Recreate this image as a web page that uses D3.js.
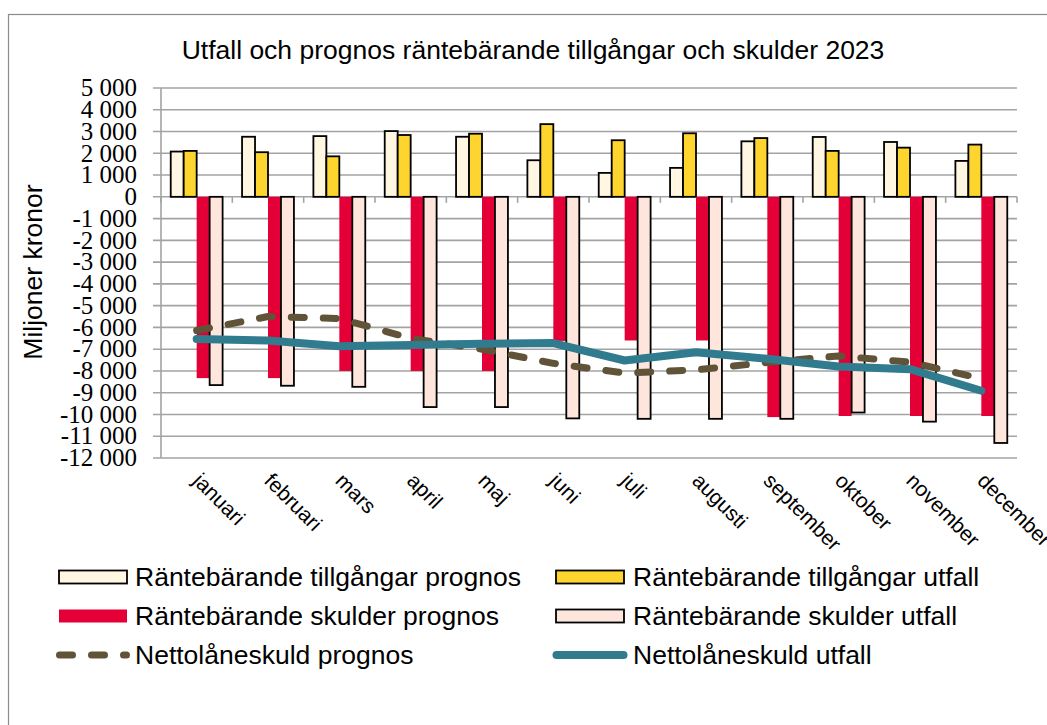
<!DOCTYPE html>
<html>
<head>
<meta charset="utf-8">
<script src="https://cdn.jsdelivr.net/npm/d3@7"></script>
<style>
  body { margin: 0; background: #fff; }
  svg { display: block; }
</style>
</head>
<body>
<script>
/* chart data (miljoner kronor) */
var months = ["januari", "februari", "mars", "april", "maj", "juni",
              "juli", "augusti", "september", "oktober", "november", "december"];
var tillgPrognos = [2080, 2760, 2790, 3020, 2760, 1680, 1100, 1330, 2550, 2750, 2520, 1650];
var tillgUtfall = [2110, 2050, 1860, 2840, 2900, 3340, 2600, 2920, 2700, 2110, 2260, 2400];
var skuldPrognos = [-8330, -8330, -8000, -8000, -8000, -6620, -6600, -6600, -10120, -10070, -10070, -10070];
var skuldUtfall = [-8650, -8680, -8730, -9660, -9660, -10180, -10200, -10200, -10200, -9910, -10330, -11310];
var nettoPrognos = [-6140, -5500, -5590, -6500, -7000, -7650, -8100, -7950, -7610, -7310, -7600, -8350];
var nettoUtfall = [-6530, -6600, -6870, -6810, -6750, -6720, -7520, -7140, -7440, -7800, -7920, -8910];
var yTicks = d3.range(-12000, 5001, 1000);

var title = "Utfall och prognos räntebärande tillgångar och skulder 2023";
var yLabel = "Miljoner kronor";

var width = 1047;
var height = 725;

var sans = "'Liberation Sans', Arial, sans-serif";
var serif = "'Liberation Serif', 'Times New Roman', serif";

var plot = {left: 161, right: 1017, top: 88, bottom: 458}; // plot area

/* series styles, in drawing order */
var barSeries = [
    {name: "Räntebärande tillgångar prognos", values: tillgPrognos, fill: "#fff7e2", stroke: "#000"},
    {name: "Räntebärande tillgångar utfall", values: tillgUtfall, fill: "#fdd52e", stroke: "#000"},
    {name: "Räntebärande skulder prognos", values: skuldPrognos, fill: "#e40037", stroke: "none"},
    {name: "Räntebärande skulder utfall", values: skuldUtfall, fill: "#fee6dc", stroke: "#000"}
];
var lineSeries = [
    {name: "Nettolåneskuld prognos", values: nettoPrognos, color: "#605338", width: 7, dash: "13,19"},
    {name: "Nettolåneskuld utfall", values: nettoUtfall, color: "#317b8f", width: 8, dash: null}
];

var svg = d3.select("body")
            .append("svg")
            .attr("width", width)
            .attr("height", height);

/* chart area frame (runs off the right and bottom edge) */
svg.append("rect")
    .attr("x", 8.5)
    .attr("y", 14.5)
    .attr("width", 1100)
    .attr("height", 800)
    .attr("fill", "#fff")
    .attr("stroke", "#8c8c8c")
    .attr("stroke-width", 1.2);

/* scales */
var xScale = d3.scaleBand()
                .domain(months)
                .range([plot.left, plot.right])
                .padding(0);

var barWidth = xScale.bandwidth() / 5.5; // gap width 150 %
var innerScale = d3.scaleBand()
                .domain(d3.range(barSeries.length))
                .range([0.75 * barWidth, 4.75 * barWidth]);

var yScale = d3.scaleLinear()
                .domain([-12000, 5000])
                .range([plot.bottom, plot.top]);

var fmt = d3.formatLocale({decimal: ",", thousands: " ", grouping: [3], currency: ["", ""], minus: "-"}).format(",d");

/* horizontal gridlines with outside tick marks */
svg.append("g")
    .selectAll("line")
    .data(yTicks)
    .enter()
    .append("line")
    .attr("x1", plot.left - 8)
    .attr("x2", plot.right)
    .attr("y1", function(d) { return yScale(d); })
    .attr("y2", function(d) { return yScale(d); })
    .attr("stroke", "#a3a3a3")
    .attr("stroke-width", 1.6);

/* vertical axis line */
svg.append("line")
    .attr("x1", plot.left)
    .attr("x2", plot.left)
    .attr("y1", yScale(5000))
    .attr("y2", yScale(-12000))
    .attr("stroke", "#a3a3a3")
    .attr("stroke-width", 1.6);

/* y tick labels */
svg.append("g")
    .selectAll("text")
    .data(yTicks)
    .enter()
    .append("text")
    .attr("x", 137)
    .attr("y", function(d) { return yScale(d); })
    .attr("dy", "0.33em")
    .attr("text-anchor", "end")
    .style("font-family", serif)
    .style("font-size", "25px")
    .attr("fill", "#000")
    .text(function(d) { return fmt(d); });

/* category tick marks on the zero line */
svg.append("g")
    .selectAll("line")
    .data(months.concat(["end"]))
    .enter()
    .append("line")
    .attr("x1", function(d) { return d === "end" ? plot.right : xScale(d); })
    .attr("x2", function(d) { return d === "end" ? plot.right : xScale(d); })
    .attr("y1", yScale(0))
    .attr("y2", yScale(0) + 6)
    .attr("stroke", "#a3a3a3")
    .attr("stroke-width", 1.6);

/* bars */
barSeries.forEach(function(s, si) {
    svg.append("g")
        .selectAll("rect")
        .data(s.values)
        .enter()
        .append("rect")
        .attr("x", function(d, i) { return xScale(months[i]) + innerScale(si); })
        .attr("y", function(d) { return yScale(Math.max(0, d)); })
        .attr("width", barWidth)
        .attr("height", function(d) { return Math.abs(yScale(d) - yScale(0)); })
        .attr("fill", s.fill)
        .attr("stroke", s.stroke)
        .attr("stroke-width", 1.8);
});

/* lines */
var line = d3.line()
            .x(function(d, i) { return xScale(months[i]) + xScale.bandwidth() / 2; })
            .y(function(d) { return yScale(d); });

lineSeries.forEach(function(s) {
    svg.append("path")
        .datum(s.values)
        .attr("d", line)
        .attr("fill", "none")
        .attr("stroke", s.color)
        .attr("stroke-width", s.width)
        .attr("stroke-linecap", "round")
        .attr("stroke-linejoin", "round")
        .attr("stroke-dasharray", s.dash);
});

/* x labels, rotated 45 degrees */
svg.append("g")
    .selectAll("text")
    .data(months)
    .enter()
    .append("text")
    .attr("transform", function(d) {
        return "translate(" + (xScale(d) + xScale.bandwidth() / 2 - 5) + ",482) rotate(45)";
    })
    .attr("text-anchor", "start")
    .style("font-family", sans)
    .style("font-size", "21px")
    .attr("fill", "#000")
    .text(function(d) { return d; });

/* title */
svg.append("text")
    .attr("x", 533)
    .attr("y", 59)
    .attr("text-anchor", "middle")
    .style("font-family", sans)
    .style("font-size", "26.5px")
    .attr("fill", "#000")
    .text(title);

/* y axis title */
svg.append("text")
    .attr("transform", "translate(42,272) rotate(-90)")
    .attr("text-anchor", "middle")
    .style("font-family", sans)
    .style("font-size", "26.5px")
    .attr("fill", "#000")
    .text(yLabel);

/* legend: two columns, three rows */
var legendItems = [
    {kind: "bar", s: barSeries[0], col: 0, row: 0},
    {kind: "bar", s: barSeries[1], col: 1, row: 0},
    {kind: "bar", s: barSeries[2], col: 0, row: 1},
    {kind: "bar", s: barSeries[3], col: 1, row: 1},
    {kind: "line", s: lineSeries[0], col: 0, row: 2},
    {kind: "line", s: lineSeries[1], col: 1, row: 2}
];
var legendCols = [{sym: 59, text: 135}, {sym: 556, text: 633}];
var legendRowY = [577, 616, 655]; // symbol centre per row

var legend = svg.append("g").attr("class", "legend");

legendItems.forEach(function(item) {
    var c = legendCols[item.col];
    var cy = legendRowY[item.row];
    if (item.kind === "bar") {
        legend.append("rect")
            .attr("x", c.sym)
            .attr("y", cy - 6.5)
            .attr("width", 68)
            .attr("height", 13)
            .attr("fill", item.s.fill)
            .attr("stroke", item.s.stroke)
            .attr("stroke-width", 1.8);
    } else {
        legend.append("line")
            .attr("x1", c.sym + 0.5)
            .attr("x2", c.sym + 67.5)
            .attr("y1", cy)
            .attr("y2", cy)
            .attr("stroke", item.s.color)
            .attr("stroke-width", item.s.width)
            .attr("stroke-linecap", "round")
            .attr("stroke-dasharray", item.s.dash);
    }
    legend.append("text")
        .attr("x", c.text)
        .attr("y", cy + 9)
        .style("font-family", sans)
        .style("font-size", "26.5px")
        .attr("fill", "#000")
        .text(item.s.name);
});
</script>
</body>
</html>
